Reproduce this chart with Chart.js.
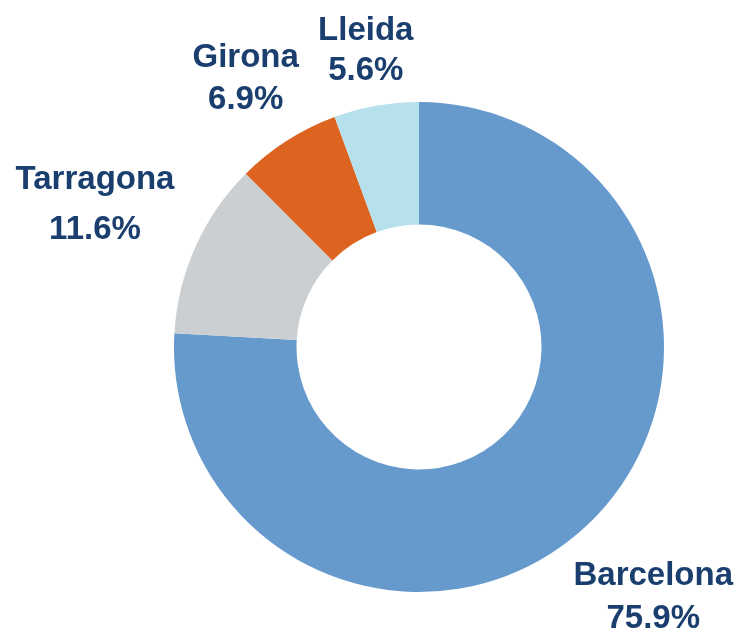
<!DOCTYPE html>
<html>
<head>
<meta charset="utf-8">
<script src="https://cdn.jsdelivr.net/npm/chart.js@4"></script>
<style>
html,body{margin:0;padding:0;background:#fff;}
#wrap{width:742px;height:633px;position:relative;}
</style>
</head>
<body>
<div id="wrap"><canvas id="c" width="742" height="633"></canvas></div>
<script>
const categories = ["Barcelona", "Tarragona", "Girona", "Lleida"];
const values = [75.9, 11.6, 6.9, 5.6];
const valueLabels = ["75.9%", "11.6%", "6.9%", "5.6%"];
const colors = ["#6699CC", "#CCCFD2", "#DC6320", "#B6E0EC"];

// label radial distance (as a multiple of outer radius) and line spacing
const labelRadius = [1.392, 1.449, 1.314, 1.241];
const lineGap = [43, 50, 42, 40];

const labelPlugin = {
  id: 'outLabels',
  afterDatasetsDraw(chart) {
    const ctx = chart.ctx;
    const meta = chart.getDatasetMeta(0);
    ctx.save();
    ctx.fillStyle = '#1A3F6F';
    ctx.font = "bold 33px 'Liberation Sans', Arial, sans-serif";
    ctx.textAlign = 'center';
    ctx.textBaseline = 'alphabetic';
    meta.data.forEach((arc, i) => {
      const p = arc.getProps(['x','y','startAngle','endAngle','outerRadius'], true);
      const mid = (p.startAngle + p.endAngle) / 2;
      const r = p.outerRadius * labelRadius[i];
      const cx = p.x + Math.cos(mid) * r;
      const cy = p.y + Math.sin(mid) * r;
      const g = lineGap[i];
      ctx.fillText(categories[i], cx, cy - g / 2 + 12);
      ctx.fillText(valueLabels[i], cx, cy + g / 2 + 12);
    });
    ctx.restore();
  }
};

new Chart(document.getElementById('c'), {
  type: 'doughnut',
  data: {
    labels: categories,
    datasets: [{
      data: values,
      backgroundColor: colors,
      borderWidth: 0,
      hoverOffset: 0
    }]
  },
  options: {
    responsive: false,
    animation: false,
    cutout: '50%',
    rotation: 0,
    layout: { padding: { left: 174, right: 78, top: 102, bottom: 41 } },
    plugins: { legend: { display: false }, tooltip: { enabled: false } }
  },
  plugins: [labelPlugin]
});
</script>
</body>
</html>
